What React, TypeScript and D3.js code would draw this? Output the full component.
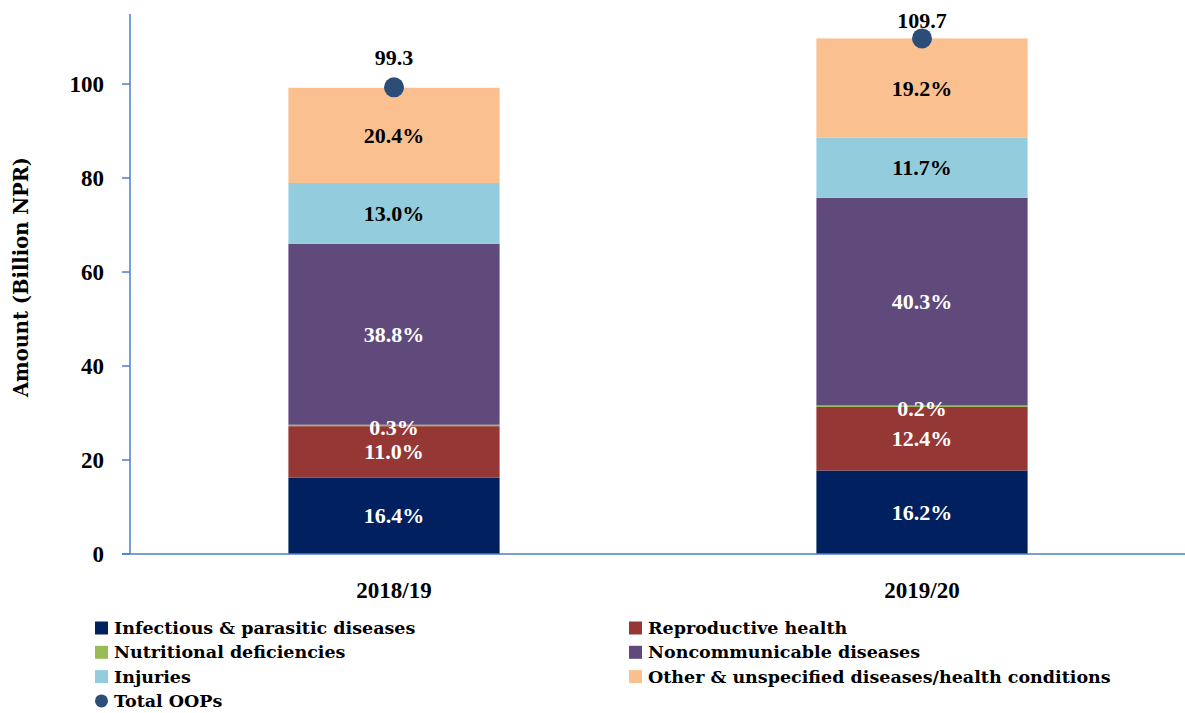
import React, { useEffect, useRef } from 'react';
import * as d3 from 'd3';

const years = ['2018/19', '2019/20'];
const totals = [99.3, 109.7];
const categories = [
  'Infectious & parasitic diseases',
  'Reproductive health',
  'Nutritional deficiencies',
  'Noncommunicable diseases',
  'Injuries',
  'Other & unspecified diseases/health conditions',
];
// share of total OOP spending, percent
const shares2018 = [16.4, 11.0, 0.3, 38.8, 13.0, 20.4];
const shares2019 = [16.2, 12.4, 0.2, 40.3, 11.7, 19.2];
const colors = ['#002060', '#953735', '#9BBB59', '#604A7B', '#93CDDD', '#FAC090'];
const labelColors = ['#fff', '#fff', '#fff', '#fff', '#000', '#000'];
const yTicks = [0, 20, 40, 60, 80, 100];

const W = 1185, H = 713;
const NUM_FONT = '"Liberation Serif", serif';
const TXT_FONT = '"DejaVu Serif", serif';

export default function App() {
  const ref = useRef<SVGSVGElement>(null);

  useEffect(() => {
    const svg = d3.select(ref.current);
    svg.selectAll('*').remove();

    const x = d3.scaleBand().domain(years).range([130, 1186]).paddingInner(0).paddingOuter(0);
    const y = d3.scaleLinear().domain([0, 114.9]).range([554, 14]);
    const bw = x.bandwidth() * 0.4;

    const shares = [shares2018, shares2019];
    const rows = years.map((yr, i) => {
      const r: any = { year: yr };
      categories.forEach((c, j) => { r[c] = shares[i][j] / 100 * totals[i]; });
      return r;
    });
    const stack = d3.stack().keys(categories)(rows);

    const g = svg.append('g');

    stack.forEach((layer, j) => {
      g.selectAll(null)
        .data(layer)
        .enter()
        .append('rect')
          .attr('x', (d: any) => x(d.data.year)! + (x.bandwidth() - bw) / 2)
          .attr('width', bw)
          .attr('y', d => y(d[1]))
          .attr('height', d => Math.max(y(d[0]) - y(d[1]), 1.5))
          .attr('fill', colors[j]);
    });

    // segment labels
    stack.forEach((layer, j) => {
      g.selectAll(null)
        .data(layer)
        .enter()
        .append('text')
          .attr('x', (d: any) => x(d.data.year)! + x.bandwidth() / 2)
          .attr('y', d => {
            const mid = y((d[0] + d[1]) / 2);
            return j === 2 ? mid + 2 : mid;
          })
          .attr('dy', '0.35em')
          .attr('text-anchor', 'middle')
          .style('font-family', NUM_FONT)
          .style('font-size', '22px')
          .style('font-weight', '700')
          .style('fill', labelColors[j])
          .text((d, i) => shares[i][j].toFixed(1) + '%');
    });

    // axes
    g.append('line')
      .attr('x1', 130).attr('x2', 130).attr('y1', 14).attr('y2', 554)
      .attr('stroke', '#4A7EC7').attr('stroke-width', 1.5);
    g.append('line')
      .attr('x1', 122).attr('x2', 1186).attr('y1', y(0)).attr('y2', y(0))
      .attr('stroke', '#4A7EC7').attr('stroke-width', 1.5);

    yTicks.forEach(t => {
      g.append('line')
        .attr('x1', 122).attr('x2', 130).attr('y1', y(t)).attr('y2', y(t))
        .attr('stroke', '#4A7EC7').attr('stroke-width', 1.5);
      g.append('text')
        .attr('x', 104).attr('y', y(t)).attr('dy', '0.35em')
        .attr('text-anchor', 'end')
        .style('font-family', NUM_FONT).style('font-size', '23px').style('font-weight', '700')
        .text(t);
    });

    g.append('text')
      .attr('transform', 'translate(28,277) rotate(-90)')
      .attr('text-anchor', 'middle')
      .style('font-family', TXT_FONT).style('font-size', '19.5px').style('font-weight', '700')
      .text('Amount (Billion NPR)');

    years.forEach(yr => {
      g.append('text')
        .attr('x', x(yr)! + x.bandwidth() / 2).attr('y', 598)
        .attr('text-anchor', 'middle')
        .style('font-family', NUM_FONT).style('font-size', '23px').style('font-weight', '700')
        .text(yr);
    });

    // total dots
    g.selectAll(null)
      .data(totals)
      .enter()
      .append('circle')
        .attr('cx', (d, i) => x(years[i])! + x.bandwidth() / 2)
        .attr('cy', d => y(d))
        .attr('r', 10)
        .attr('fill', '#2B4D78');
    g.selectAll(null)
      .data(totals)
      .enter()
      .append('text')
        .attr('x', (d, i) => x(years[i])! + x.bandwidth() / 2)
        .attr('y', d => Math.max(y(d) - 22, 28))
        .attr('text-anchor', 'middle')
        .style('font-family', NUM_FONT).style('font-size', '22px').style('font-weight', '700')
        .text(d => d.toFixed(1));

    // legend
    const legendItems = [
      { name: categories[0], col: 0, row: 0, color: colors[0] },
      { name: categories[1], col: 1, row: 0, color: colors[1] },
      { name: categories[2], col: 0, row: 1, color: colors[2] },
      { name: categories[3], col: 1, row: 1, color: colors[3] },
      { name: categories[4], col: 0, row: 2, color: colors[4] },
      { name: categories[5], col: 1, row: 2, color: colors[5] },
      { name: 'Total OOPs', col: 0, row: 3, color: '#2B4D78', dot: true },
    ];
    legendItems.forEach(it => {
      const lx = it.col === 0 ? 95 : 629;
      const ly = 628 + it.row * 24.3;
      if (it.dot) {
        g.append('circle').attr('cx', lx + 6.5).attr('cy', ly).attr('r', 6.5).attr('fill', it.color);
      } else {
        g.append('rect').attr('x', lx).attr('y', ly - 6.5).attr('width', 13).attr('height', 13).attr('fill', it.color);
      }
      g.append('text')
        .attr('x', lx + 19).attr('y', ly).attr('dy', '0.35em')
        .style('font-family', TXT_FONT).style('font-size', '17.5px').style('font-weight', '700')
        .text(it.name);
    });
  }, []);

  return (
    <svg ref={ref} width={W} height={H}
      style={{ position: 'absolute', left: 0, top: 0, background: '#fff' }} />
  );
}
